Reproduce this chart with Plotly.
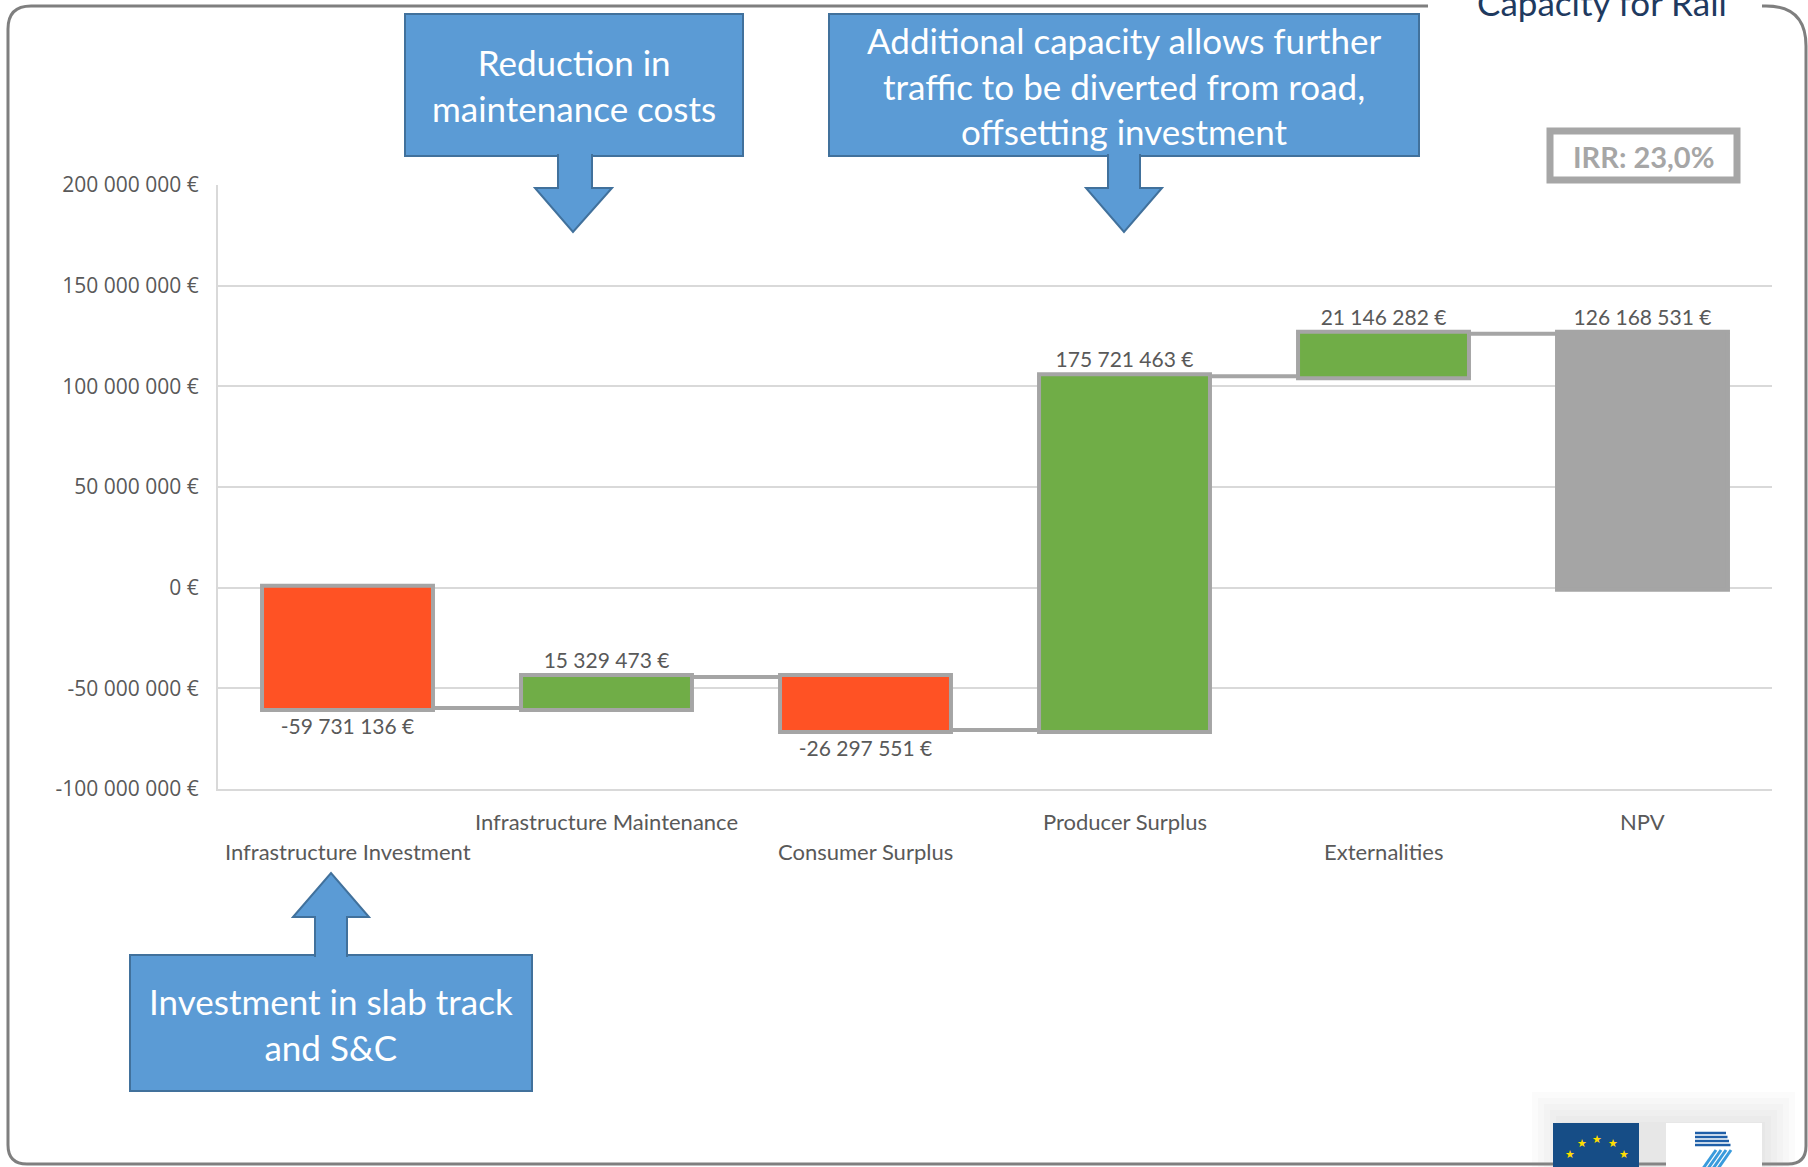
import math
import plotly.graph_objects as go

# ---------------- data ----------------
categories = ["Infrastructure Investment", "Infrastructure Maintenance", "Consumer Surplus",
              "Producer Surplus", "Externalities", "NPV"]
values = [-59731136, 15329473, -26297551, 175721463, 21146282, 126168531]
measures = ["relative", "relative", "relative", "relative", "relative", "total"]
y_tickvals = [-100000000, -50000000, 0, 50000000, 100000000, 150000000, 200000000]
y_ticktext = ["-100 000 000 €", "-50 000 000 €", "0 €", "50 000 000 €",
              "100 000 000 €", "150 000 000 €", "200 000 000 €"]
irr_text = "IRR: 23,0%"
title_text = "Capacity for Rail"
callout_texts = ["Reduction in<br>maintenance costs",
                 "Additional capacity allows further<br>traffic to be diverted from road,<br>offsetting investment",
                 "Investment in slab track<br>and S&C"]


def eur(v):
    return f"{v:,}".replace(",", " ") + " €"


labels = [eur(v) for v in values]

# ---------------- geometry helpers (pixel -> paper) ----------------
W, H = 1808, 1167
PL, PR, PT, PB = 218, 1772, 185, 789


def px(x):
    return (x - PL) / (PR - PL)


def py(y):
    return (PB - y) / (PB - PT)


def P(x, y):
    return f"{px(x):.5f},{py(y):.5f}"


GRID = "#D9D9D9"
TXT = "#595959"
BLUE = "#5B9BD5"
BLUE_EDGE = "#41719C"
FONT = "Lato"

fig = go.Figure()
fig.add_trace(go.Waterfall(
    x=categories, y=values, measure=measures,
    text=labels, textposition="outside",
    textfont=dict(family=FONT, size=21, color=TXT),
    increasing=dict(marker=dict(color="#70AD47", line=dict(color="#A5A5A5", width=4))),
    decreasing=dict(marker=dict(color="#FF5224", line=dict(color="#A5A5A5", width=4))),
    totals=dict(marker=dict(color="#A5A5A5", line=dict(color="#A5A5A5", width=4))),
    connector=dict(line=dict(color="#A5A5A5", width=4)),
    width=0.66, cliponaxis=False, showlegend=False, hoverinfo="skip",
))

shapes = []
annotations = []

# category labels (staggered, Excel style)
row_y = [851, 821]
for i, c in enumerate(categories):
    annotations.append(dict(x=c, xref="x", y=py(row_y[i % 2]), yref="paper",
                            text=c, showarrow=False, xanchor="center", yanchor="middle",
                            font=dict(family=FONT, size=22, color=TXT)))

# outer rounded frame with a gap for the title
frame = (f"M{P(1428, 6)} L{P(31, 6)} Q{P(8, 6)} {P(8, 29)} L{P(8, 1145)} "
         f"Q{P(8, 1164)} {P(27, 1164)} L{P(1788, 1164)} Q{P(1806, 1164)} {P(1806, 1146)} "
         f"L{P(1806, 46)} Q{P(1806, 6)} {P(1766, 6)} L{P(1762, 6)}")
shapes.append(dict(type="path", xref="paper", yref="paper", path=frame,
                   line=dict(color="#7F7F7F", width=3), layer="above"))
annotations.append(dict(x=px(1602), y=py(2), xref="paper", yref="paper", text=title_text,
                        showarrow=False, xanchor="center", yanchor="middle",
                        font=dict(family=FONT, size=35, color="#1F3A5F")))


def rect(x0, y0, x1, y1, fill, line_color, lw, layer="above", opacity=1):
    shapes.append(dict(type="rect", xref="paper", yref="paper",
                       x0=px(x0), x1=px(x1), y0=py(y1), y1=py(y0),
                       fillcolor=fill, line=dict(color=line_color, width=lw),
                       layer=layer, opacity=opacity))


# callouts: box + arrow
def callout(box, arrow_pts, text, tx, ty):
    rect(*box, BLUE, BLUE_EDGE, 2)
    pth = "M" + " L".join(P(x, y) for x, y in arrow_pts)
    shapes.append(dict(type="path", xref="paper", yref="paper", path=pth,
                       fillcolor=BLUE, line=dict(color=BLUE_EDGE, width=2), layer="above"))
    annotations.append(dict(x=px(tx), y=py(ty), xref="paper", yref="paper", text=text,
                            showarrow=False, xanchor="center", yanchor="middle",
                            font=dict(family=FONT, size=35, color="white")))


callout((405, 14, 743, 156),
        [(558, 154), (558, 188), (535, 188), (573, 232), (612, 188), (592, 188), (592, 154)],
        callout_texts[0], 574, 85)
callout((829, 14, 1419, 156),
        [(1108, 154), (1108, 188), (1086, 188), (1124, 232), (1162, 188), (1140, 188), (1140, 154)],
        callout_texts[1], 1124, 85)
callout((130, 955, 532, 1091),
        [(315, 957), (315, 917), (293, 917), (331, 873), (369, 917), (347, 917), (347, 957)],
        callout_texts[2], 331, 1024)

# IRR box
rect(1550, 131, 1737, 180, "white", "#A6A6A6", 7)
annotations.append(dict(x=px(1643), y=py(156), xref="paper", yref="paper", text=irr_text,
                        showarrow=False, xanchor="center", yanchor="middle",
                        font=dict(family=FONT, size=29, color="#A6A6A6", weight="bold")))

# logos bottom-right (shadow, EU flag, FP7)
for k in range(6):
    d = k * 6
    rect(1532 + d, 1092 + d, 1795 - d, 1175, "#9A9A9A", "rgba(0,0,0,0)", 0, opacity=0.045)
rect(1553, 1123, 1639, 1172, "#164D86", "rgba(0,0,0,0)", 0)
cx, cy, r = 1597, 1170, 31
for k in range(12):
    a = math.radians(30 * k)
    sx, sy = cx + r * math.sin(a), cy - r * math.cos(a)
    if sy < 1170:
        annotations.append(dict(x=px(sx), y=py(sy), xref="paper", yref="paper", text="★",
                                showarrow=False, xanchor="center", yanchor="middle",
                                font=dict(family="DejaVu Sans", size=11, color="#FFDD00")))
rect(1666, 1123, 1762, 1172, "white", "rgba(0,0,0,0)", 0)
for k in range(4):
    yy = 1133 + k * 4
    shapes.append(dict(type="line", xref="paper", yref="paper",
                       x0=px(1695), x1=px(1726 + k * 1.5), y0=py(yy), y1=py(yy),
                       line=dict(color="#1F5FA8", width=2.5), layer="above"))
for k in range(4):
    x0 = 1716 + k * 5
    shapes.append(dict(type="line", xref="paper", yref="paper",
                       x0=px(x0), x1=px(x0 - 14), y0=py(1150), y1=py(1170),
                       line=dict(color="#3A9BDC", width=3), layer="above"))

fig.update_layout(
    width=W, height=H, autosize=False,
    margin=dict(l=PL, r=W - PR, t=PT, b=H - PB),
    paper_bgcolor="white", plot_bgcolor="white",
    shapes=shapes, annotations=annotations,
    xaxis=dict(type="category", categoryorder="array", categoryarray=categories,
               range=[-0.5, 5.5], showticklabels=False, showgrid=False, zeroline=False,
               showline=True, linecolor=GRID, linewidth=2, ticks=""),
    yaxis=dict(range=[-100000000, 200000000], tickvals=y_tickvals, ticktext=y_ticktext,
               showgrid=True, gridcolor=GRID, gridwidth=2, zeroline=False,
               showline=True, linecolor=GRID, linewidth=2, ticks="",
               ticklabelstandoff=13,
               tickfont=dict(family="Open Sans", size=21, color=TXT)),
    font=dict(family=FONT),
)

fig.write_html("out.html")
